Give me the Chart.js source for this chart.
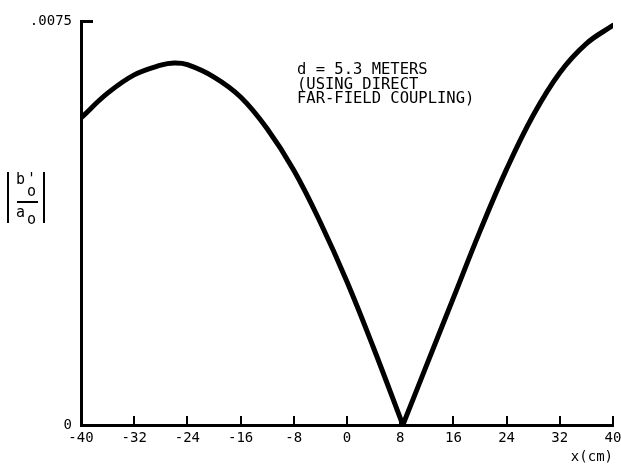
<!DOCTYPE html>
<html>
<head>
<meta charset="utf-8">
<script src="https://cdn.jsdelivr.net/npm/chart.js@4.4.1/dist/chart.umd.min.js"></script>
<style>
  html, body { margin: 0; padding: 0; background: #fff; }
  #wrap { position: relative; width: 621px; height: 466px; }
  #c { position: absolute; left: 0; top: 0; }
  .t { position: absolute; font-family: "DejaVu Sans Mono", monospace; color: #000; white-space: pre; }
  .ann { font-size: 15.5px; line-height: 14.5px; left: 297px; top: 62px; }
  .yl { font-size: 15px; line-height: 15px; }
  .bar { position: absolute; width: 2px; background: #000; top: 172px; height: 51px; }
  .frac { position: absolute; height: 1.5px; background: #000; left: 17px; width: 21px; top: 201px; }
</style>
</head>
<body>
<div id="wrap">
  <canvas id="c" width="621" height="466"></canvas>
  <div class="t ann">d = 5.3 METERS
(USING DIRECT
FAR-FIELD COUPLING)</div>
  <div class="bar" style="left:7px"></div>
  <div class="bar" style="left:43px"></div>
  <span class="t yl" style="left:16px; top:172px">b</span>
  <span class="t yl" style="left:27px; top:172px">'</span>
  <span class="t yl" style="left:27px; top:184px">o</span>
  <div class="frac"></div>
  <span class="t yl" style="left:16px; top:205px">a</span>
  <span class="t yl" style="left:27px; top:212px">o</span>
</div>
<script>
// Left branch (from x = -40 down to the null near x = 8.4)
const leftX = [-40, -36, -32, -28, -26, -24, -20, -16, -12, -8, -4, 0, 4, 8.4];
const leftY = [0.00570, 0.00616, 0.00650, 0.00668, 0.00672, 0.00669, 0.00646, 0.00609, 0.00550, 0.00473, 0.00376, 0.00266, 0.00143, 0];
// Right branch (from the null up to x = 40)
const rightX = [8.4, 12, 16, 20, 24, 28, 32, 36, 40];
const rightY = [0, 0.00112, 0.00236, 0.00360, 0.00475, 0.00575, 0.00654, 0.00708, 0.00742];

const xMin = -40, xMax = 40, xStep = 8;
const yTickValues = [0, 0.0075];
const yTickLabels = ['0', '.0075'];
const xTitle = 'x(cm)';

const toPts = (xs, ys) => xs.map((x, i) => ({ x: x, y: ys[i] }));

Chart.defaults.color = '#000';
Chart.defaults.font.family = '"DejaVu Sans Mono", monospace';
Chart.defaults.font.size = 14;

const lineStyle = { borderColor: '#000', borderWidth: 5, pointRadius: 0, tension: 0.4,
  borderCapStyle: 'round', borderJoinStyle: 'round', fill: false };

new Chart(document.getElementById('c'), {
  type: 'line',
  data: {
    datasets: [
      Object.assign({ data: toPts(leftX, leftY) }, lineStyle),
      Object.assign({ data: toPts(rightX, rightY) }, lineStyle)
    ]
  },
  options: {
    responsive: false,
    animation: false,
    devicePixelRatio: 1,
    layout: { padding: { top: 21, right: 8, left: 0, bottom: 0 } },
    plugins: { legend: { display: false }, tooltip: { enabled: false } },
    scales: {
      x: {
        type: 'linear', min: xMin, max: xMax,
        border: { display: true, color: '#000', width: 3 },
        grid: { drawOnChartArea: false, drawTicks: true, tickLength: -9, color: '#000', lineWidth: 2 },
        ticks: { stepSize: xStep, autoSkip: false, maxRotation: 0, padding: 14,
                 font: { size: 14 } },
        title: { display: true, text: xTitle, align: 'end', padding: { top: 0, bottom: 0 },
                 font: { size: 14 } },
        afterFit: (s) => { s.height = 41; s.paddingLeft = 0; s.paddingRight = 0; }
      },
      y: {
        type: 'linear', min: 0, max: 0.0075,
        border: { display: true, color: '#000', width: 3 },
        grid: { drawOnChartArea: false, drawTicks: true, tickLength: -12, color: '#000', lineWidth: 3 },
        afterBuildTicks: (s) => { s.ticks = yTickValues.map(v => ({ value: v })); },
        ticks: { padding: 21, font: { size: 14 },
                 callback: (v) => { const i = yTickValues.indexOf(v); return i >= 0 ? yTickLabels[i] : ''; } },
        afterFit: (s) => { s.width = 81; s.paddingTop = 0; s.paddingBottom = 0; }
      }
    }
  }
});
</script>
</body>
</html>
